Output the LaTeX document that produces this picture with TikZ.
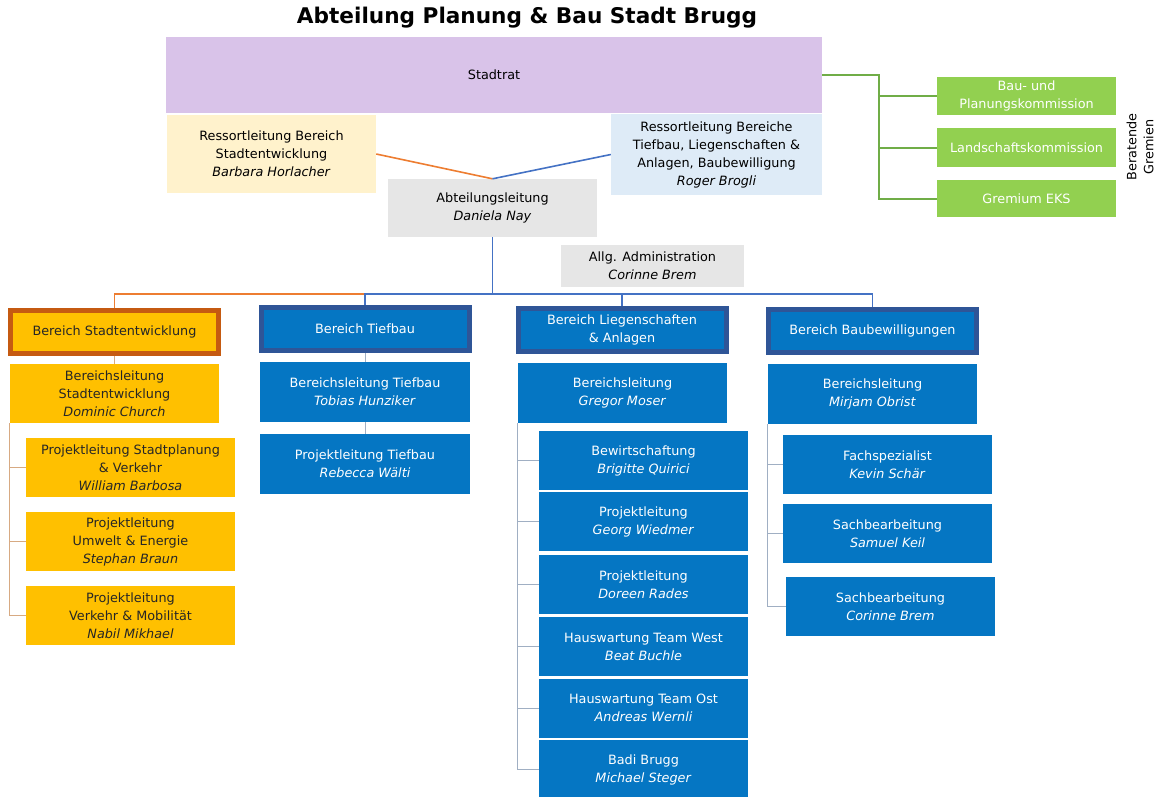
\documentclass[tikz,border=0pt]{standalone}
\usepackage{fontspec}
\setmainfont{DejaVu Sans}

\definecolor{ratlila}{RGB}{217,195,233}
\definecolor{ressgelb}{RGB}{255,242,204}
\definecolor{ressblau}{RGB}{222,235,247}
\definecolor{leitgrau}{RGB}{230,230,230}
\definecolor{gremgruen}{RGB}{146,208,80}
\definecolor{liniegruen}{RGB}{112,173,71}
\definecolor{bergelb}{RGB}{255,192,0}
\definecolor{berorange}{RGB}{197,90,17}
\definecolor{berblau}{RGB}{5,118,195}
\definecolor{randblau}{RGB}{47,85,151}
\definecolor{linieorange}{RGB}{237,125,49}
\definecolor{linieblau}{RGB}{68,114,196}
\definecolor{astblau}{RGB}{160,175,195}
\definecolor{astorange}{RGB}{215,170,130}

\tikzset{
	box/.style={inner sep=0pt, align=center, minimum width=209, minimum height=59,
		font=\fontsize{12.8}{18}\selectfont},
	gelbbox/.style={box, fill=bergelb, text=black!85},
	blaubox/.style={box, fill=berblau, text=white},
	grauebox/.style={box, fill=leitgrau},
	gruenbox/.style={box, fill=gremgruen, text=white, minimum width=179},
	bereichgelb/.style={gelbbox, draw=berorange, line width=5, minimum width=208, minimum height=43},
	bereichblau/.style={blaubox, draw=randblau, line width=5, minimum width=208, minimum height=43},
	orangeline/.style={linieorange, line width=1.6},
	blueline/.style={linieblau, line width=1.6},
	greenline/.style={liniegruen, line width=2},
	astline/.style={astblau, line width=1},
	astgelb/.style={astorange, line width=1}
}

\begin{document}
\begin{tikzpicture}[x=1pt, y=-1pt]
		\useasboundingbox (0,0) rectangle (1159,796);
		
		% Titel
		\node[font=\fontsize{21.6}{26}\selectfont\bfseries] (titel) at (527,18) {Abteilung Planung \& Bau Stadt Brugg};
		
		% Stadtrat und Ressorts
		\node[box, fill=ratlila, minimum width=656, minimum height=76] (rat) at (494,75) {Stadtrat};
		\node[box, fill=ressgelb, minimum height=78] (rsent) at (271.5,154)
		{Ressortleitung Bereich\\Stadtentwicklung\\\textit{Barbara Horlacher}};
		\node[box, fill=ressblau, minimum width=211, minimum height=81] (rstief) at (716.5,154.5)
		{Ressortleitung Bereiche\\Tiefbau, Liegenschaften \&\\Anlagen, Baubewilligung\\\textit{Roger Brogli}};
		\node[grauebox, minimum height=58] (abt) at (492.5,208) {Abteilungsleitung\\\textit{Daniela Nay}};
		\node[grauebox, minimum width=183, minimum height=42] (admin) at (652.5,266) {Allg. Administration\\\textit{Corinne Brem}};
		
		% Beratende Gremien
		\node[gruenbox, minimum height=38] (baukom) at (1026.5,96) {Bau- und\\Planungskommission};
		\node[gruenbox, minimum height=39] (landkom) at (1026.5,147.5) {Landschaftskommission};
		\node[gruenbox, minimum height=37] (gremium) at (1026.5,198.5) {Gremium EKS};
		\node[rotate=90, align=center, font=\fontsize{12.8}{17}\selectfont] (beratend) at (1140,147) {Beratende\\Gremien};
		\coordinate (gstamm) at (879,75);
		\draw[greenline] (rat.east) -- (gstamm) |- (gremium.west);
		\draw[greenline] (gstamm) |- (baukom.west);
		\draw[greenline] (gstamm) |- (landkom.west);
		
		% Bereiche
		\node[bereichgelb] (stadt) at (114.5,332) {Bereich Stadtentwicklung};
		\node[bereichblau] (tief) at (365,329) {Bereich Tiefbau};
		\node[bereichblau] (lieg) at (622,330) {Bereich Liegenschaften\\\& Anlagen};
		\node[bereichblau] (baub) at (872.5,331) {Bereich Baubewilligungen};
		
		% Linien oben
		\draw[orangeline] (rsent.east) -- (abt.north);
		\draw[blueline] (rstief.west) -- (abt.north);
		\coordinate (bus) at (492.5,294);
		\draw[blueline] (abt.south) -- (bus);
		\draw[orangeline] (tief.north |- bus) -| (stadt.north);
		\draw[blueline] (tief.north) |- (baub.north |- bus) -- (baub.north);
		\draw[blueline] (bus) -| (lieg.north);
		
		% Stadtentwicklung
		\node[gelbbox] (stadtbl) at (114.5,393.5) {Bereichsleitung\\Stadtentwicklung\\\textit{Dominic Church}};
		\node[gelbbox] (stadtp1) at (130.5,467.5) {Projektleitung Stadtplanung\\\& Verkehr\\\textit{William Barbosa}};
		\node[gelbbox] (stadtp2) at (130.5,541.5) {Projektleitung\\Umwelt \& Energie\\\textit{Stephan Braun}};
		\node[gelbbox] (stadtp3) at (130.5,615.5) {Projektleitung\\Verkehr \& Mobilität\\\textit{Nabil Mikhael}};
		\draw[astgelb] (stadt.south) -- (stadtbl.north);
		\draw[astgelb] (stadtbl.south west) |- (stadtp1.west);
		\draw[astgelb] (stadtbl.south west) |- (stadtp2.west);
		\draw[astgelb] (stadtbl.south west) |- (stadtp3.west);
		
		% Tiefbau
		\node[blaubox, minimum width=210, minimum height=60] (tiefbl) at (365,392) {Bereichsleitung Tiefbau\\\textit{Tobias Hunziker}};
		\node[blaubox, minimum width=210, minimum height=60] (tiefpl) at (365,464) {Projektleitung Tiefbau\\\textit{Rebecca Wälti}};
		\draw[astline] (tief.south) -- (tiefbl.north);
		\draw[astline] (tiefbl.south) -- (tiefpl.north);
		
		% Liegenschaften
		\node[blaubox, minimum height=60] (liegbl) at (622.5,393) {Bereichsleitung\\\textit{Gregor Moser}};
		\node[blaubox] (liegb1) at (643.5,460.5) {Bewirtschaftung\\\textit{Brigitte Quirici}};
		\node[blaubox] (liegb2) at (643.5,521.5) {Projektleitung\\\textit{Georg Wiedmer}};
		\node[blaubox] (liegb3) at (643.5,584.5) {Projektleitung\\\textit{Doreen Rades}};
		\node[blaubox] (liegb4) at (643.5,646.5) {Hauswartung Team West\\\textit{Beat Buchle}};
		\node[blaubox] (liegb5) at (643.5,708) {Hauswartung Team Ost\\\textit{Andreas Wernli}};
		\node[blaubox] (liegb6) at (643.5,769.5) {Badi Brugg\\\textit{Michael Steger}};
		\draw[astline] (liegbl.south west) |- (liegb1.west);
		\draw[astline] (liegbl.south west) |- (liegb2.west);
		\draw[astline] (liegbl.south west) |- (liegb3.west);
		\draw[astline] (liegbl.south west) |- (liegb4.west);
		\draw[astline] (liegbl.south west) |- (liegb5.west);
		\draw[astline] (liegbl.south west) |- (liegb6.west);
		
		% Baubewilligungen
		\node[blaubox, minimum height=60] (baubbl) at (872.5,394) {Bereichsleitung\\\textit{Mirjam Obrist}};
		\node[blaubox] (baubf) at (887.5,464.5) {Fachspezialist\\\textit{Kevin Schär}};
		\node[blaubox] (baubs1) at (887.5,533.5) {Sachbearbeitung\\\textit{Samuel Keil}};
		\node[blaubox] (baubs2) at (890.5,606.5) {Sachbearbeitung\\\textit{Corinne Brem}};
		\draw[astline] (baubbl.south west) |- (baubf.west);
		\draw[astline] (baubbl.south west) |- (baubs1.west);
		\draw[astline] (baubbl.south west) |- (baubs2.west);
	\end{tikzpicture}
\end{document}
